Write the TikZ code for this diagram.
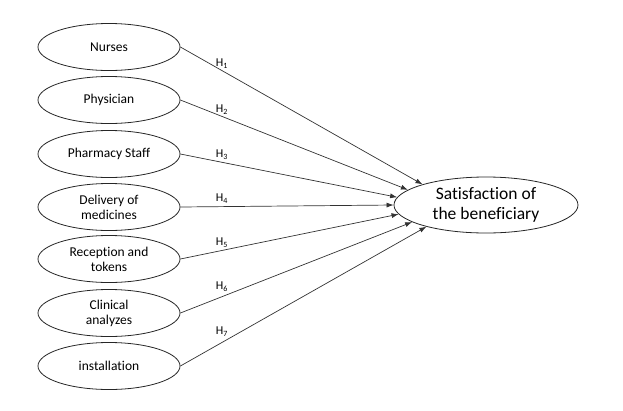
\documentclass[tikz,border=0pt]{standalone}
\usepackage{fontspec}
\setmainfont{Carlito}[Ligatures=NoCommon]
\usetikzlibrary{shapes.geometric,arrows.meta}
\begin{document}
\begin{tikzpicture}[x=1pt,y=-1pt,
  src/.style={draw=black!85,line width=0.8pt,ellipse,minimum width=142pt,minimum height=47pt,inner sep=0pt,align=center,font=\fontsize{13.5}{15}\selectfont,text=black},
  tgt/.style={draw=black!85,line width=0.8pt,ellipse,minimum width=184pt,minimum height=56pt,inner sep=0pt,align=center,font=\fontsize{17.5}{20}\selectfont,text=black},
  link/.style={draw=black!80,line width=0.7pt,-{Latex[length=7pt,width=5pt]}},
  hlab/.style={font=\fontsize{12}{13}\selectfont,text=black,inner sep=0pt}]
\useasboundingbox (0,0) rectangle (623,410);
\node[src] (n1) at (109,47) {Nurses};
\node[src] (n2) at (109,100) {Physician};
\node[src] (n3) at (109,154) {Pharmacy Staff};
\node[src] (n4) at (109,207) {Delivery of\\medicines};
\node[src] (n5) at (109,259) {Reception and\\tokens};
\node[src] (n6) at (109,313) {Clinical\\analyzes};
\node[src] (n7) at (109,366) {installation};
\node[tgt] (s) at (486,205) {Satisfaction of\\the beneficiary};
\draw[link] (n1.east) -- (s.162);
\draw[link] (n2.east) -- (s.169);
\draw[link] (n3.east) -- (s.175);
\draw[link] (n4.east) -- (s.180);
\draw[link] (n5.east) -- (s.186);
\draw[link] (n6.east) -- (s.193);
\draw[link] (n7.east) -- (s.200);
\node[hlab] (h1) at (222,64) {H\textsubscript{1}};
\node[hlab] (h2) at (222,110) {H\textsubscript{2}};
\node[hlab] (h3) at (222,155) {H\textsubscript{3}};
\node[hlab] (h4) at (222,199) {H\textsubscript{4}};
\node[hlab] (h5) at (222,243) {H\textsubscript{5}};
\node[hlab] (h6) at (222,287) {H\textsubscript{6}};
\node[hlab] (h7) at (222,332) {H\textsubscript{7}};
\end{tikzpicture}
\end{document}
